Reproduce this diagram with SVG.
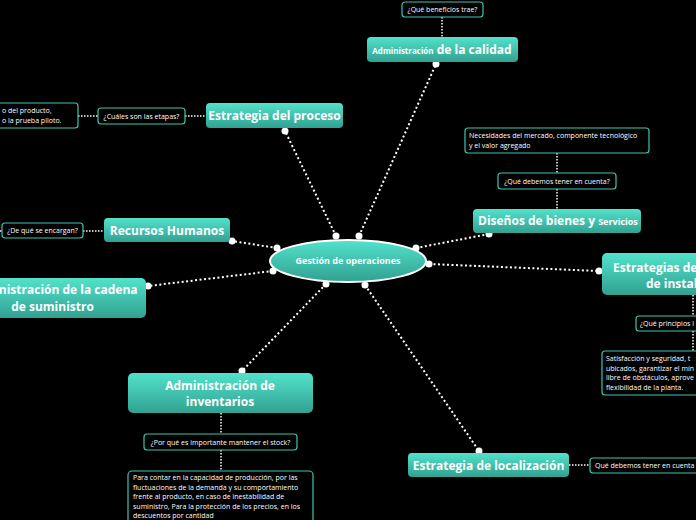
<svg xmlns="http://www.w3.org/2000/svg" width="696" height="520" viewBox="0 0 696 520">
<defs>
<linearGradient id="g" x1="0" y1="0" x2="0" y2="1">
<stop offset="0" stop-color="#52e2cb"/>
<stop offset="1" stop-color="#31a191"/>
</linearGradient>
<style>
.n{fill:url(#g);}
.q{fill:#000;stroke:#3cc6ae;stroke-width:1.2;}
.t{font-family:"Open Sans","Noto Sans",sans-serif;font-weight:bold;font-size:12px;fill:#fff;}
.s{font-family:"Open Sans","Noto Sans",sans-serif;font-size:7px;fill:#fff;}
.c{fill:none;stroke:#fff;stroke-width:2;stroke-dasharray:2 2.5;}
.d{fill:none;stroke:#fff;stroke-width:1.5;stroke-dasharray:1.5 1.5;}
.p{fill:#fff;}
</style>
</defs>
<rect width="696" height="520" fill="#000"/>
<g id="connectors">
<path class="c" d="M336 236 L285 131"/>
<path class="c" d="M359 236 L436 64"/>
<path class="c" d="M277 248 L232 241"/>
<path class="c" d="M416 248 L489 234"/>
<path class="c" d="M429 264 L599 271"/>
<path class="c" d="M273 271 L148 286"/>
<path class="c" d="M326 284 L242 371"/>
<path class="c" d="M365 285 L479 451"/>
<path class="d" d="M442 17 V37"/>
<path class="d" d="M185 116 H206"/>
<path class="d" d="M78 116 H98"/>
<path class="d" d="M557 153 V173"/>
<path class="d" d="M557 189 V209"/>
<path class="d" d="M83 231 H104"/>
<path class="d" d="M0 231 H2"/>
<path class="d" d="M693 295 V316"/>
<path class="d" d="M693 331 V351"/>
<path class="d" d="M221 413 V434"/>
<path class="d" d="M221 450 V471"/>
<path class="d" d="M569 465 H590"/>
<circle class="p" cx="336" cy="236" r="3.5"/>
<circle class="p" cx="285" cy="131" r="3.5"/>
<circle class="p" cx="359" cy="236" r="3.5"/>
<circle class="p" cx="436" cy="64" r="3.5"/>
<circle class="p" cx="277" cy="248" r="3.5"/>
<circle class="p" cx="232" cy="241" r="3.5"/>
<circle class="p" cx="416" cy="248" r="3.5"/>
<circle class="p" cx="489" cy="234" r="3.5"/>
<circle class="p" cx="429" cy="264" r="3.5"/>
<circle class="p" cx="599" cy="271" r="3.5"/>
<circle class="p" cx="273" cy="271" r="3.5"/>
<circle class="p" cx="148" cy="286" r="3.5"/>
<circle class="p" cx="326" cy="284" r="3.5"/>
<circle class="p" cx="242" cy="371" r="3.5"/>
<circle class="p" cx="365" cy="285" r="3.5"/>
<circle class="p" cx="479" cy="451" r="3.5"/>
</g>
<g id="center">
<ellipse cx="348" cy="261" rx="78" ry="21" fill="url(#g)" stroke="#fff" stroke-width="2"/>
<text x="348" y="264" text-anchor="middle" class="t" style="font-size:9px">Gestión de operaciones</text>
</g>
<g id="calidad">
<rect class="n" x="367" y="37" width="151" height="25" rx="4"/>
<text x="442" y="54" text-anchor="middle" class="t"><tspan style="font-size:8px">Administración</tspan> de la calidad</text>
</g>
<g id="calidad-q">
<rect class="q" x="402" y="2" width="81" height="15" rx="3"/>
<text x="442.5" y="12" text-anchor="middle" class="s">¿Qué beneficios trae?</text>
</g>
<g id="proceso">
<rect class="n" x="206" y="103" width="137" height="25" rx="4"/>
<text x="274.5" y="120" text-anchor="middle" class="t">Estrategia del proceso</text>
</g>
<g id="proceso-q">
<rect class="q" x="98" y="108" width="87" height="16" rx="3"/>
<text x="141.5" y="118.5" text-anchor="middle" class="s">¿Cuáles son las etapas?</text>
</g>
<g id="proceso-a">
<rect class="q" x="-20" y="103" width="98" height="25" rx="3"/>
<text x="2" y="113" class="s">o del producto,</text>
<text x="2" y="122.5" class="s">o la prueba piloto.</text>
</g>
<g id="disenos">
<rect class="n" x="473" y="209" width="168" height="24" rx="4"/>
<text x="478" y="225" class="t">Diseños de bienes y <tspan style="font-size:9px">Servicios</tspan></text>
</g>
<g id="disenos-q">
<rect class="q" x="498" y="173" width="118" height="16" rx="3"/>
<text x="557" y="183.5" text-anchor="middle" class="s">¿Qué debemos tener en cuenta?</text>
</g>
<g id="disenos-a">
<rect class="q" x="465" y="128" width="184" height="25" rx="3"/>
<text x="469" y="137.5" class="s">Necesidades del mercado, componente tecnológico</text>
<text x="469" y="147.5" class="s">y el valor agregado</text>
</g>
<g id="rrhh">
<rect class="n" x="104" y="218" width="126" height="24" rx="4"/>
<text x="167" y="235" text-anchor="middle" class="t">Recursos Humanos</text>
</g>
<g id="rrhh-q">
<rect class="q" x="2" y="223" width="81" height="15" rx="3"/>
<text x="42.5" y="233" text-anchor="middle" class="s">¿De qué se encargan?</text>
</g>
<g id="cadena">
<rect class="n" x="-40" y="278" width="186" height="40" rx="5"/>
<text x="52.5" y="294" text-anchor="middle" class="t">Administración de la cadena</text>
<text x="52.5" y="311" text-anchor="middle" class="t">de suministro</text>
</g>
<g id="instalaciones">
<rect class="n" x="602" y="253" width="120" height="42" rx="5"/>
<text x="613" y="272" class="t">Estrategias de</text>
<text x="646" y="288" class="t">de instal</text>
</g>
<g id="instalaciones-q">
<rect class="q" x="636" y="316" width="80" height="15" rx="3"/>
<text x="640" y="326" class="s">¿Qué principios l</text>
</g>
<g id="instalaciones-a">
<rect class="q" x="602" y="351" width="120" height="44" rx="3"/>
<text x="606" y="361" class="s">Satisfacción y seguridad, t</text>
<text x="606" y="370.5" class="s">ubicados, garantizar el mín</text>
<text x="606" y="380" class="s">libre de obstáculos, aprove</text>
<text x="606" y="390" class="s">flexibilidad de la planta.</text>
</g>
<g id="inventarios">
<rect class="n" x="128" y="373" width="185" height="40" rx="5"/>
<text x="220" y="390" text-anchor="middle" class="t">Administración de</text>
<text x="220" y="406" text-anchor="middle" class="t">inventarios</text>
</g>
<g id="inventarios-q">
<rect class="q" x="144" y="434" width="153" height="16" rx="3"/>
<text x="220.5" y="444.5" text-anchor="middle" class="s">¿Por qué es importante mantener el stock?</text>
</g>
<g id="inventarios-a">
<rect class="q" x="128" y="471" width="185" height="60" rx="4"/>
<text x="133" y="480" class="s">Para contar en la capacidad de producción, por las</text>
<text x="133" y="489.5" class="s">fluctuaciones de la demanda y su comportamiento</text>
<text x="133" y="499" class="s">frente al producto, en caso de inestabilidad de</text>
<text x="133" y="508.5" class="s">suministro, Para la protección de los precios, en los</text>
<text x="133" y="518" class="s">descuentos por cantidad</text>
</g>
<g id="localizacion">
<rect class="n" x="408" y="453" width="161" height="24" rx="4"/>
<text x="488.5" y="469.5" text-anchor="middle" class="t">Estrategia de localización</text>
</g>
<g id="localizacion-q">
<rect class="q" x="590" y="458" width="120" height="15" rx="3"/>
<text x="595" y="468" class="s">Qué debemos tener en cuenta</text>
</g>
</svg>
